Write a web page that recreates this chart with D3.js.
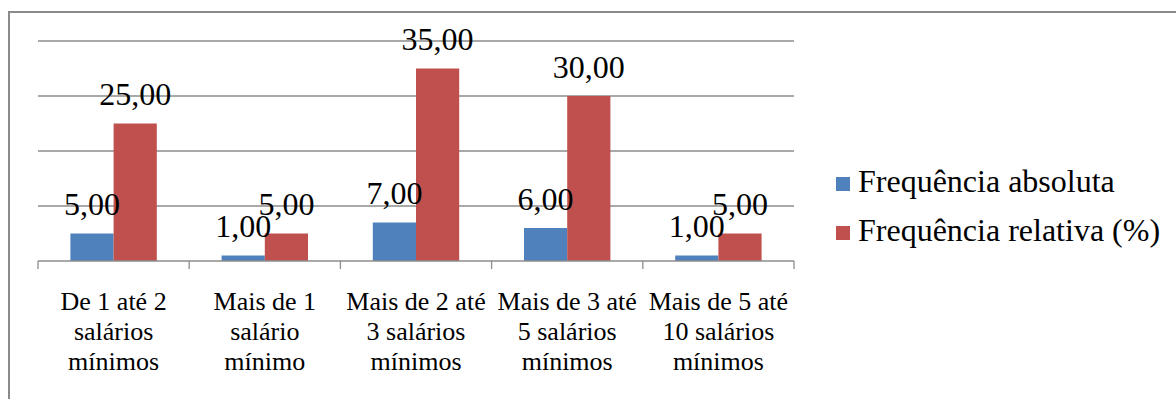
<!DOCTYPE html>
<html>
<head>
<meta charset="utf-8">
<script src="https://cdn.jsdelivr.net/npm/d3@7"></script>
</head>
<body style="margin:0;background:#fff">
<svg id="chart" width="1176" height="399" style="display:block"></svg>
<script>
// Faixas de renda (cada rótulo quebrado em linhas)
const categories = [
  "De 1 até 2 salários mínimos",
  "Mais de 1 salário mínimo",
  "Mais de 2 até 3 salários mínimos",
  "Mais de 3 até 5 salários mínimos",
  "Mais de 5 até 10 salários mínimos"
];
const categoryLines = [
  ["De 1 até 2", "salários", "mínimos"],
  ["Mais de 1", "salário", "mínimo"],
  ["Mais de 2 até", "3 salários", "mínimos"],
  ["Mais de 3 até", "5 salários", "mínimos"],
  ["Mais de 5 até", "10 salários", "mínimos"]
];
const seriesNames = ["Frequência absoluta", "Frequência relativa (%)"];
const seriesColors = ["#4F81BD", "#C0504D"];
const freqAbsoluta = [5, 1, 7, 6, 1];
const freqRelativa = [25, 5, 35, 30, 5];
const yTicks = [0, 10, 20, 30, 40];

const FONT = '"Liberation Serif", "Times New Roman", Tinos, serif';
const svg = d3.select("#chart");
const plot = { left: 38, right: 794, top: 41, bottom: 261 };

// Moldura externa do gráfico
svg.append("path")
  .attr("d", "M9,399 V12 H1176")
  .attr("fill", "none")
  .attr("stroke", "#8a8a8a")
  .attr("stroke-width", 2);

const x0 = d3.scaleBand().domain(categories).range([plot.left, plot.right]).padding(0);
const x1 = d3.scaleBand().domain(seriesNames).range([0, x0.bandwidth()])
  .paddingInner(0).paddingOuter(0.75);
const y = d3.scaleLinear().domain([0, 40]).range([plot.bottom, plot.top]);

// Linhas de grade horizontais
svg.append("g")
  .selectAll("line")
  .data(yTicks.filter(d => d > 0))
  .join("line")
  .attr("x1", plot.left).attr("x2", plot.right)
  .attr("y1", d => y(d)).attr("y2", d => y(d))
  .attr("stroke", "#8c8c8c").attr("stroke-width", 1.3);

// Barras agrupadas
const rows = categories.map((c, i) => ({ cat: c, values: [freqAbsoluta[i], freqRelativa[i]] }));
const groups = svg.append("g").selectAll("g")
  .data(rows).join("g")
  .attr("transform", d => `translate(${x0(d.cat)},0)`);

groups.selectAll("rect")
  .data(d => d.values.map((v, k) => ({ key: seriesNames[k], v, k })))
  .join("rect")
  .attr("x", d => x1(d.key))
  .attr("width", x1.bandwidth())
  .attr("y", d => y(d.v))
  .attr("height", d => y(0) - y(d.v))
  .attr("fill", d => seriesColors[d.k]);

// Eixo horizontal com marcas entre categorias
const axisG = svg.append("g");
axisG.append("line")
  .attr("x1", plot.left).attr("x2", plot.right)
  .attr("y1", y(0)).attr("y2", y(0))
  .attr("stroke", "#8c8c8c").attr("stroke-width", 1.3);
const boundaries = categories.map(c => x0(c)).concat([x0(categories[categories.length - 1]) + x0.bandwidth()]);
axisG.selectAll("line.tick")
  .data(boundaries).join("line")
  .attr("class", "tick")
  .attr("x1", d => d).attr("x2", d => d)
  .attr("y1", y(0)).attr("y2", y(0) + 8)
  .attr("stroke", "#8c8c8c").attr("stroke-width", 1.3);

// Rótulos de categoria em três linhas
svg.append("g").selectAll("text")
  .data(categories).join("text")
  .attr("text-anchor", "middle")
  .style("font-size", "26px")
  .style("font-family", FONT)
  .each(function (c, i) {
    const t = d3.select(this);
    categoryLines[i].forEach((line, j) => {
      t.append("tspan")
        .attr("x", x0(c) + x0.bandwidth() / 2)
        .attr("y", 310 + j * 30)
        .text(line);
    });
  });

// Rótulos de valor sobre as barras
const fmt = d3.formatLocale({ decimal: ",", thousands: ".", grouping: [3], currency: ["R$", ""] }).format(".2f");
groups.selectAll("text")
  .data(d => d.values.map((v, k) => ({ key: seriesNames[k], v, k })))
  .join("text")
  .attr("text-anchor", "middle")
  .style("font-size", "32px")
  .style("font-family", FONT)
  .attr("x", d => x1(d.key) + x1.bandwidth() / 2)
  .attr("y", d => y(d.v) - 18.5)
  .text(d => fmt(d.v));

// Legenda
const legend = svg.append("g").selectAll("g")
  .data(seriesNames).join("g")
  .attr("transform", (d, i) => `translate(836,${192 + i * 49})`);
legend.append("rect")
  .attr("x", 0).attr("y", -15)
  .attr("width", 14).attr("height", 14)
  .attr("fill", (d, i) => seriesColors[i]);
legend.append("text")
  .attr("x", 22).attr("y", 0)
  .style("font-size", "32px")
  .style("font-family", FONT)
  .text(d => d);
</script>
</body>
</html>
